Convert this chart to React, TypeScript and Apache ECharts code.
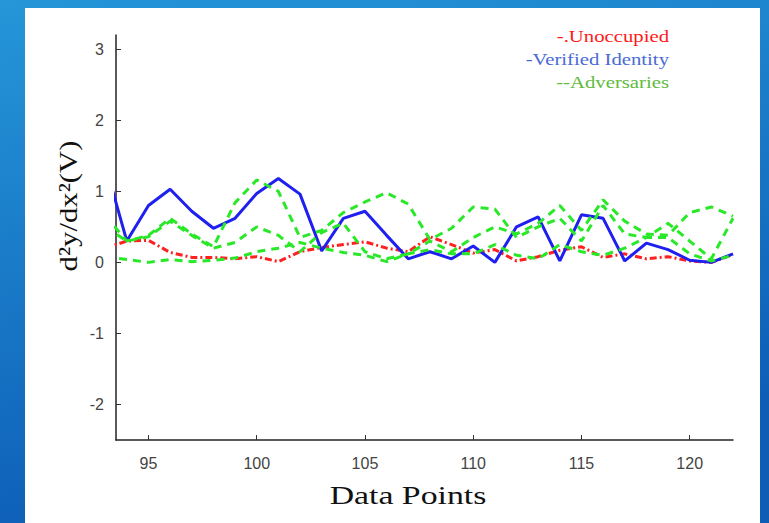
import React, { useEffect, useRef } from "react";
import * as echarts from "echarts";

const xValues = [93, 94, 95, 96, 97, 98, 99, 100, 101, 102, 103, 104, 105, 106, 107, 108, 109, 110, 111, 112, 113, 114, 115, 116, 117, 118, 119, 120, 121, 122];
const unoccupied = [0.2, 0.3, 0.31, 0.14, 0.07, 0.07, 0.05, 0.08, 0.01, 0.15, 0.21, 0.25, 0.29, 0.2, 0.15, 0.36, 0.25, 0.13, 0.18, 0.02, 0.08, 0.17, 0.22, 0.07, 0.12, 0.05, 0.08, 0.02, 0.0, 0.11];
const verified = [1.38, 0.3, 0.8, 1.03, 0.72, 0.48, 0.62, 0.97, 1.18, 0.96, 0.16, 0.62, 0.72, 0.38, 0.05, 0.15, 0.05, 0.23, 0.0, 0.5, 0.64, 0.02, 0.67, 0.62, 0.02, 0.27, 0.18, 0.03, 0.0, 0.12];
const adversary1 = [0.66, 0.3, 0.38, 0.62, 0.4, 0.22, 0.84, 1.16, 1.0, 0.35, 0.45, 0.7, 0.85, 0.98, 0.82, 0.32, 0.48, 0.78, 0.75, 0.35, 0.5, 0.62, 0.3, 0.8, 0.4, 0.35, 0.55, 0.3, 0.05, 0.62];
const adversary2 = [0.5, 0.3, 0.36, 0.58, 0.38, 0.2, 0.28, 0.5, 0.38, 0.15, 0.42, 0.55, 0.15, 0.05, 0.12, 0.3, 0.15, 0.35, 0.5, 0.4, 0.55, 0.8, 0.45, 0.88, 0.58, 0.4, 0.38, 0.7, 0.78, 0.65];
const adversary3 = [0.08, 0.04, 0.0, 0.04, 0.01, 0.03, 0.06, 0.15, 0.2, 0.28, 0.2, 0.14, 0.1, 0.01, 0.12, 0.18, 0.12, 0.12, 0.25, 0.1, 0.05, 0.25, 0.15, 0.1, 0.2, 0.35, 0.35, 0.12, 0.02, 0.1];
const xTicks = [95, 100, 105, 110, 115, 120];
const yTicks = [-2, -1, 0, 1, 2, 3];
const legendLabels = ["-.Unoccupied", "-Verified Identity", "--Adversaries"];
const xTitle = "Data Points";
const yTitle = "d²y/dx²(V)";

const pairs = (ys: number[]) => xValues.map((x, i) => [x, ys[i]]);

export default function App() {
  const ref = useRef<HTMLDivElement>(null);
  useEffect(() => {
    if (!ref.current) return;
    const chart = echarts.init(ref.current, null, { renderer: "svg" });
    const green = "#28e828";
    const greenLine = { color: green, width: 3, type: [8, 6] as number[] };
    const legendFont = "17px 'Liberation Serif'";
    chart.setOption({
      animation: false,
      backgroundColor: new echarts.graphic.LinearGradient(0, 0, 0.3, 1, [
        { offset: 0, color: "#2596d8" },
        { offset: 1, color: "#0d5cb6" },
      ]),
      grid: { left: 116, right: 36, top: 35, bottom: 83 },
      xAxis: {
        type: "value",
        min: 93.5,
        max: 122,
        splitLine: { show: false },
        axisLine: { show: true, onZero: false, lineStyle: { color: "#222", width: 1.5 } },
        axisTick: { show: true, inside: true, length: 5, customValues: xTicks, lineStyle: { color: "#333" } },
        axisLabel: { customValues: xTicks, color: "#444", fontSize: 16, fontFamily: "Liberation Sans", margin: 15 },
      },
      yAxis: {
        type: "value",
        min: -2.5,
        max: 3.2,
        splitLine: { show: false },
        axisLine: { show: true, onZero: false, lineStyle: { color: "#222", width: 1.5 } },
        axisTick: { show: true, inside: true, length: 5, customValues: yTicks, lineStyle: { color: "#333" } },
        axisLabel: { customValues: yTicks, color: "#444", fontSize: 16, fontFamily: "Liberation Sans", margin: 12 },
      },
      graphic: [
        { type: "rect", z: -10, shape: { x: 25, y: 8, width: 735, height: 530 }, style: { fill: "#ffffff" } },
        {
          type: "text", x: 669, y: 36,
          style: { text: legendLabels[0], fill: "#ff1a1a", font: legendFont, textAlign: "right", textVerticalAlign: "middle" },
          scaleX: 1.22,
        },
        {
          type: "text", x: 669, y: 59,
          style: { text: legendLabels[1], fill: "#4a6bd4", font: legendFont, textAlign: "right", textVerticalAlign: "middle" },
          scaleX: 1.22,
        },
        {
          type: "text", x: 669, y: 82,
          style: { text: legendLabels[2], fill: "#62bb3e", font: legendFont, textAlign: "right", textVerticalAlign: "middle" },
          scaleX: 1.22,
        },
        {
          type: "text", x: 408, y: 495,
          style: { text: xTitle, fill: "#111", font: "26px 'Liberation Serif'", textAlign: "center", textVerticalAlign: "middle" },
          scaleX: 1.3,
        },
        {
          type: "text", x: 68, y: 206, rotation: Math.PI / 2,
          style: { text: yTitle, fill: "#111", font: "26px 'Liberation Serif'", textAlign: "center", textVerticalAlign: "middle" },
          scaleX: 1.18,
        },
      ],
      series: [
        { type: "line", data: pairs(unoccupied), showSymbol: false, clip: true, lineStyle: { color: "#ff2020", width: 3, type: [7, 3, 2, 3] } },
        { type: "line", data: pairs(verified), showSymbol: false, clip: true, lineStyle: { color: "#1f1ff0", width: 3 } },
        { type: "line", data: pairs(adversary1), showSymbol: false, clip: true, lineStyle: greenLine },
        { type: "line", data: pairs(adversary2), showSymbol: false, clip: true, lineStyle: greenLine },
        { type: "line", data: pairs(adversary3), showSymbol: false, clip: true, lineStyle: greenLine },
      ],
    });
    return () => chart.dispose();
  }, []);
  return <div ref={ref} style={{ position: "fixed", left: 0, top: 0, width: 769, height: 523 }} />;
}
